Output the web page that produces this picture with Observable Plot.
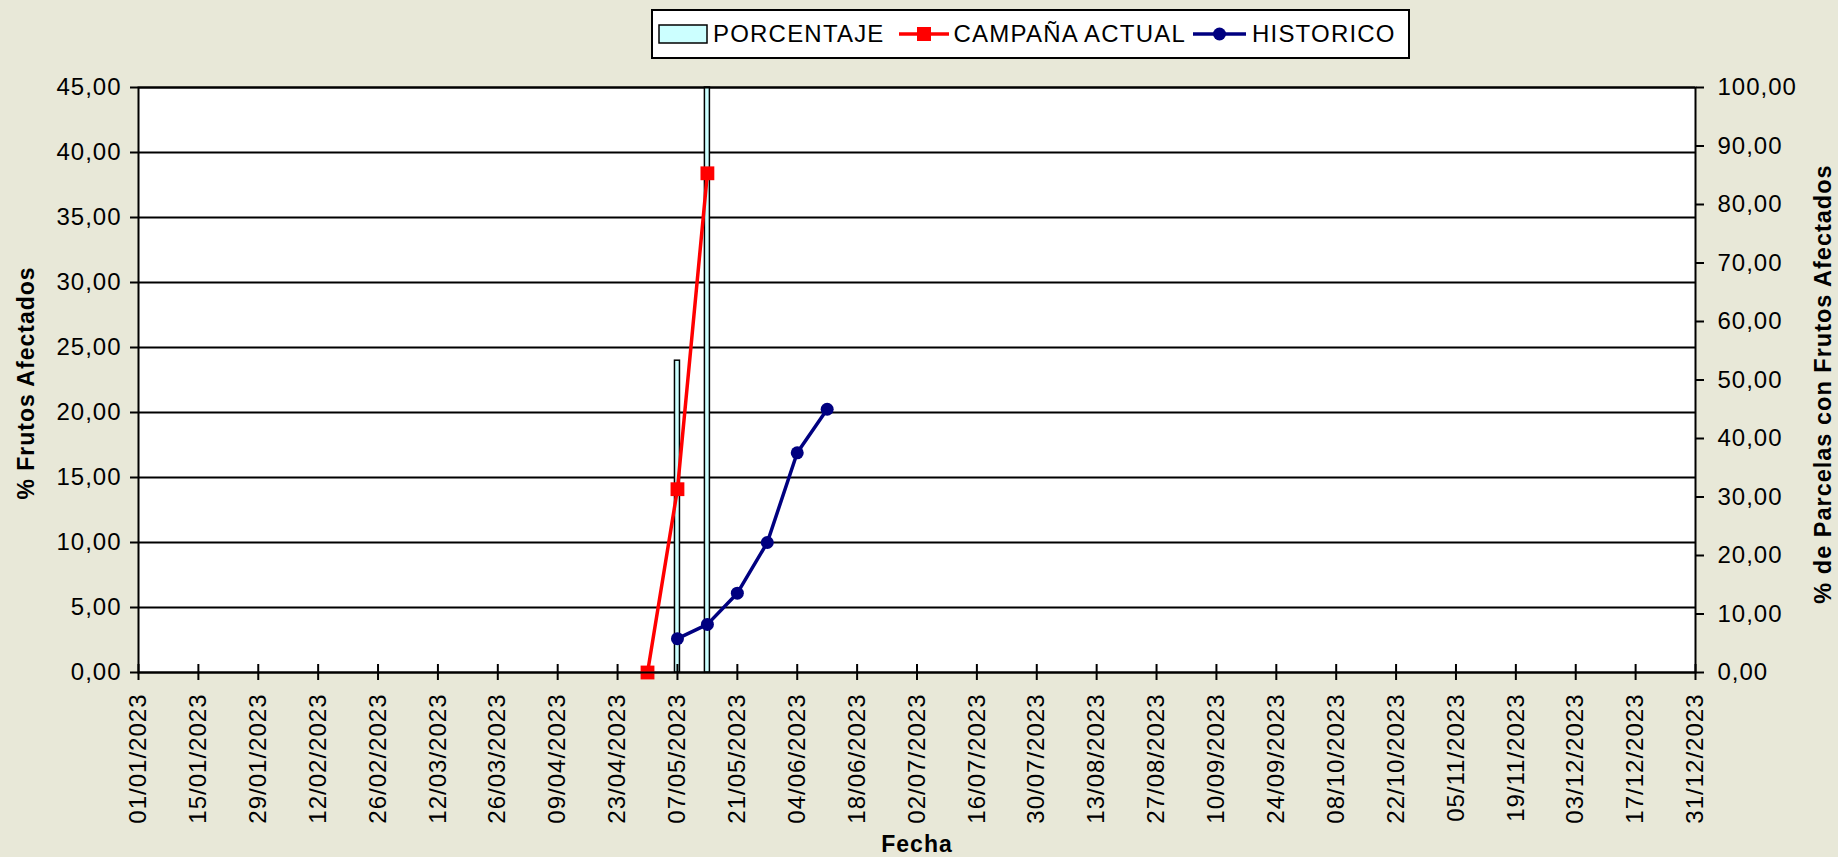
<!DOCTYPE html>
<html>
<head>
<meta charset="utf-8">
<script src="https://cdn.jsdelivr.net/npm/d3@7"></script>
<script src="https://cdn.jsdelivr.net/npm/@observablehq/plot@0.6"></script>
<style>
  html, body { margin: 0; padding: 0; background: #E8E8D8; }
  #wrap { position: relative; width: 1838px; height: 857px; overflow: hidden; font-family: "Liberation Sans", Arial, sans-serif; }
  #wrap svg text { letter-spacing: 1px; }
  #legend { position: absolute; left: 651px; top: 9px; width: 755px; height: 46px; border: 2px solid #000; background: #fff;
            display: flex; align-items: center; font-size: 24px; letter-spacing: 1.2px; color: #000; box-sizing: content-box; }
  #legend .item { display: flex; align-items: center; }
  #legend svg { display: block; }
</style>
</head>
<body>
<div id="wrap">
  <div id="chart"></div>
  <div id="legend"></div>
</div>
<script>
// ---- Data ----
const xTickLabels = ["01/01/2023","15/01/2023","29/01/2023","12/02/2023","26/02/2023","12/03/2023","26/03/2023",
  "09/04/2023","23/04/2023","07/05/2023","21/05/2023","04/06/2023","18/06/2023","02/07/2023","16/07/2023",
  "30/07/2023","13/08/2023","27/08/2023","10/09/2023","24/09/2023","08/10/2023","22/10/2023","05/11/2023",
  "19/11/2023","03/12/2023","17/12/2023","31/12/2023"];
const leftTicks = [0, 5, 10, 15, 20, 25, 30, 35, 40, 45];
const rightTicks = [0, 10, 20, 30, 40, 50, 60, 70, 80, 90, 100];

const seriesNames = ["PORCENTAJE", "CAMPAÑA ACTUAL", "HISTORICO"];

const pctDates = ["07/05/2023", "14/05/2023"];
const pctValues = [53.3, 100];

const campDates = ["30/04/2023", "07/05/2023", "14/05/2023"];
const campValues = [0, 14.1, 38.4];

const histDates = ["07/05/2023", "14/05/2023", "21/05/2023", "28/05/2023", "04/06/2023", "11/06/2023"];
const histValues = [2.6, 3.7, 6.1, 10.0, 16.9, 20.25];

// ---- Build ----
const parse = d3.utcParse("%d/%m/%Y");
const fmtDate = d3.utcFormat("%d/%m/%Y");
const fmt = v => d3.format(".2f")(v).replace(".", ",");
const K = 45 / 100; // right axis (0-100) mapped onto left axis (0-45)

const xTicks = xTickLabels.map(parse);
const pct = pctDates.map((d, i) => ({date: parse(d), value: pctValues[i]}));
const camp = campDates.map((d, i) => ({date: parse(d), value: campValues[i]}));
const hist = histDates.map((d, i) => ({date: parse(d), value: histValues[i]}));

const ML = 138, MR = 143, MT = 87, MB = 185, H = 857;
const innerH = H - MT - MB;

const chart = Plot.plot({
  width: 1838, height: H,
  marginLeft: ML, marginRight: MR, marginTop: MT, marginBottom: MB,
  style: {background: "transparent", fontFamily: "'Liberation Sans', Arial, sans-serif", fontSize: "24px", color: "#000"},
  x: {type: "utc", domain: [xTicks[0], xTicks[xTicks.length - 1]]},
  y: {domain: [0, 45]},
  marks: [
    Plot.frame({fill: "#FFFFFF"}),
    Plot.ruleY(leftTicks, {stroke: "#000", strokeWidth: 2}),
    Plot.rectY(pct, {
      x1: d => d3.utcHour.offset(d.date, -14), x2: d => d3.utcHour.offset(d.date, 14),
      y1: 0, y2: d => Math.min(d.value, 100) * K,
      fill: "#CCFFFF", stroke: "#000", strokeWidth: 1.5
    }),
    Plot.line(camp, {x: "date", y: "value", stroke: "#FF0000", strokeWidth: 3.5}),
    Plot.dot(camp, {x: "date", y: "value", symbol: "square", r: 7.8, fill: "#FF0000", stroke: "none"}),
    Plot.line(hist, {x: "date", y: "value", stroke: "#000080", strokeWidth: 3.5}),
    Plot.dot(hist, {x: "date", y: "value", r: 6.5, fill: "#000080", stroke: "none"}),
    Plot.frame({stroke: "#000", strokeWidth: 2}),
    Plot.tickX(xTicks, {x: d => d, insetTop: innerH - 8, stroke: "#000", strokeWidth: 2}),
    Plot.axisX(xTicks, {anchor: "bottom", tickSize: 8, tickPadding: 13, tickRotate: -90, tickFormat: fmtDate,
      strokeWidth: 2, label: null, fill: "#000"}),
    Plot.axisY(leftTicks, {anchor: "left", tickSize: 8, tickPadding: 9, tickFormat: fmt, strokeWidth: 2, label: null, fill: "#000"}),
    Plot.axisY(rightTicks.map(v => v * K), {anchor: "right", tickSize: 8, tickPadding: 14, tickFormat: d => fmt(d / K),
      strokeWidth: 2, label: null, fill: "#000"}),
    Plot.text(["% Frutos Afectados"], {frameAnchor: "left", textAnchor: "middle", lineAnchor: "middle", rotate: -90, dx: -112, dy: 3,
      fontWeight: "bold", fontSize: 23, fill: "#000"}),
    Plot.text(["% de Parcelas con Frutos Afectados"], {frameAnchor: "right", textAnchor: "middle", lineAnchor: "middle", rotate: -90, dx: 128, dy: 4,
      fontWeight: "bold", fontSize: 23.5, fill: "#000"}),
    Plot.text(["Fecha"], {frameAnchor: "bottom", textAnchor: "middle", dy: 179, fontWeight: "bold", fontSize: 23, fill: "#000"})
  ]
});
document.getElementById("chart").appendChild(chart);

// ---- Legend ----
const legend = d3.select("#legend");
const it1 = legend.append("div").attr("class", "item").style("margin-left", "5px");
const s1 = it1.append("svg").attr("width", 50).attr("height", 20);
s1.append("rect").attr("x", 1).attr("y", 1).attr("width", 48).attr("height", 18).attr("fill", "#CCFFFF").attr("stroke", "#000").attr("stroke-width", 1.5);
it1.append("span").text(seriesNames[0]).style("margin-left", "5px");

const it2 = legend.append("div").attr("class", "item").style("margin-left", "14px");
const s2 = it2.append("svg").attr("width", 50).attr("height", 20);
s2.append("line").attr("x1", 0).attr("x2", 50).attr("y1", 10).attr("y2", 10).attr("stroke", "#FF0000").attr("stroke-width", 3.5);
s2.append("rect").attr("x", 18).attr("y", 3).attr("width", 14).attr("height", 14).attr("fill", "#FF0000");
it2.append("span").text(seriesNames[1]).style("margin-left", "5px");

const it3 = legend.append("div").attr("class", "item").style("margin-left", "7px");
const s3 = it3.append("svg").attr("width", 53).attr("height", 20);
s3.append("line").attr("x1", 0).attr("x2", 53).attr("y1", 10).attr("y2", 10).attr("stroke", "#000080").attr("stroke-width", 3.5);
s3.append("circle").attr("cx", 26.5).attr("cy", 10).attr("r", 6.5).attr("fill", "#000080");
it3.append("span").text(seriesNames[2]).style("margin-left", "6px");
</script>
</body>
</html>
